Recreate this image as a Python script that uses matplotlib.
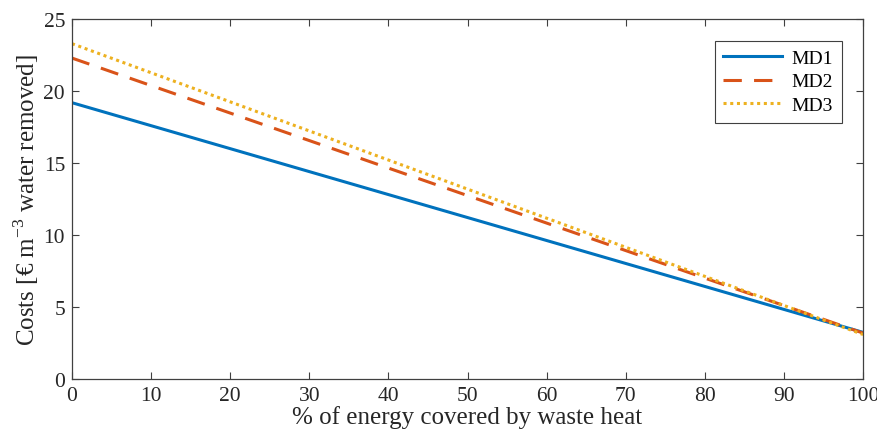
import matplotlib
matplotlib.use('Agg')
import matplotlib.pyplot as plt
import numpy as np

# % of energy covered by waste heat
waste_heat = [0, 100]
md1 = [19.2, 3.25]
md2 = [22.3, 3.2]
md3 = [23.3, 3.1]

plt.rcParams['font.family'] = ['Liberation Serif', 'DejaVu Serif']
plt.rcParams['mathtext.fontset'] = 'custom'
plt.rcParams['mathtext.rm'] = 'Liberation Serif'

fig = plt.figure(figsize=(8.78, 4.39), dpi=100)
ax = fig.add_axes([0.082, 0.134, 0.901, 0.82])

ax.plot(waste_heat, md1, color='#0072BD', linewidth=2.2, linestyle='-', label='MD1')
ax.plot(waste_heat, md2, color='#D95319', linewidth=2.2, linestyle=(0, (6, 4)), label='MD2')
ax.plot(waste_heat, md3, color='#EDB120', linewidth=2.2, linestyle=(0, (1, 1.2)), label='MD3')

ax.set_xlim(0, 100)
ax.set_ylim(0, 25)
ax.set_xticks(np.arange(0, 101, 10))
ax.set_yticks(np.arange(0, 26, 5))
ax.tick_params(direction='in', top=True, right=True, labelsize=15.5, length=5,
               color='#404040', labelcolor='#262626', pad=5)
for s in ax.spines.values():
    s.set_color('#404040')
    s.set_linewidth(0.9)

ax.set_xlabel('% of energy covered by waste heat', fontsize=18, color='#262626', labelpad=0)
ax.set_ylabel('Costs [€ m$^{-3}$ water removed]', fontsize=18, color='#262626', labelpad=2)

leg = ax.legend(loc='upper right', fontsize=14, fancybox=False, framealpha=1,
                edgecolor='#404040', handlelength=3.0, borderaxespad=1.1,
                borderpad=0.45, labelspacing=0.3, handletextpad=0.5)
leg.get_frame().set_linewidth(0.8)

fig.savefig('out.png', dpi=100)
